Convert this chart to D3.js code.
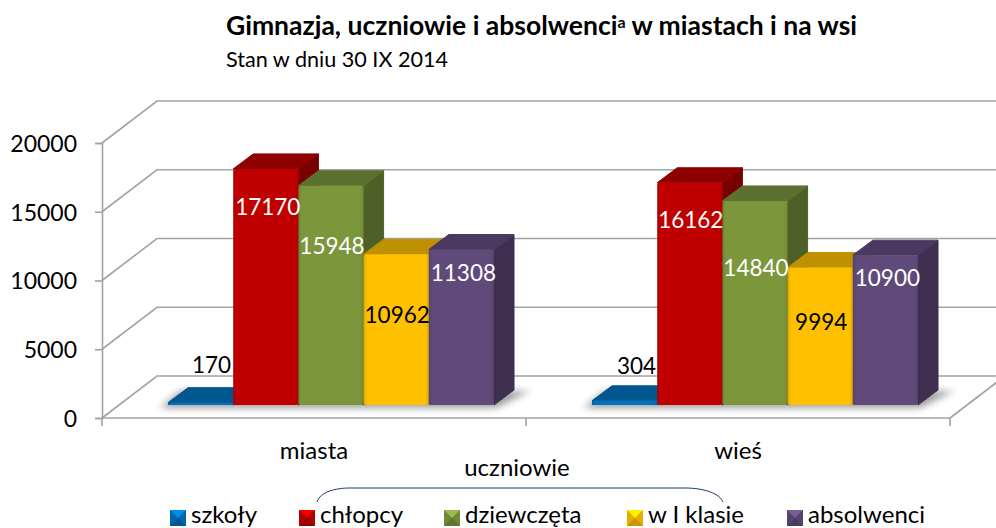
<!DOCTYPE html>
<html>
<head>
<meta charset="utf-8">
<script src="https://d3js.org/d3.v7.min.js"></script>
<style>
  html, body { margin: 0; padding: 0; background: #fff; overflow: hidden; }
  text { font-family: Lato, "Open Sans", sans-serif; }
  .tick text { font-family: Lato, "Open Sans", sans-serif; }
</style>
</head>
<body>
<div id="chart"></div>
<script>
var categories = ["miasta", "wieś"];
var seriesNames = ["szkoły", "chłopcy", "dziewczęta", "w I klasie", "absolwenci"];
var miastaValues = [170, 17170, 15948, 10962, 11308];
var wiesValues = [304, 16162, 14840, 9994, 10900];
var yTicks = [0, 5000, 10000, 15000, 20000];

var w = 996;
var h = 528;

// colours per series: front, top, side
var frontColors = ["#0070c0", "#c00000", "#7c963c", "#ffc000", "#604a7a"];
var topColors = ["#00568f", "#8f0000", "#5c7030", "#bf9000", "#4a3960"];
var sideColors = ["#004a7c", "#790000", "#4e5f27", "#a67d00", "#3f2f50"];
var labelColors = ["#000", "#fff", "#fff", "#000", "#fff"];

// the labels were placed by hand in the original: drop below bar top, and x shift
var labelDrop = [[-38, 38, 60, 61, 23], [-35, 37, 67, 54, 23]];
var labelShift = [[11, 2, 1, 1, 2], [12, 1, 1, 1, 2]];

// 3D box settings
var wallDx = 55, wallDy = -42;    // back wall offset
var barDx = 20, barDy = -15;      // depth of one bar
var floorInset = 13;              // bars stand a bit behind the front edge

var svg = d3.select("#chart")
    .append("svg")
    .attr("width", w)
    .attr("height", h)
    .style("display", "block");

var defs = svg.append("defs");
defs.append("filter")
    .attr("id", "soft")
    .attr("x", "-20%").attr("y", "-60%")
    .attr("width", "140%").attr("height", "220%")
    .append("feGaussianBlur")
    .attr("stdDeviation", 3.5);

// darker edges on the bar fronts
frontColors.forEach(function(c, i) {
    var g = defs.append("linearGradient").attr("id", "front" + i);
    var dark = d3.color(c).darker(0.35);
    g.append("stop").attr("offset", "0%").attr("stop-color", dark);
    g.append("stop").attr("offset", "5%").attr("stop-color", c);
    g.append("stop").attr("offset", "95%").attr("stop-color", c);
    g.append("stop").attr("offset", "100%").attr("stop-color", dark);
});

var xScale = d3.scaleBand()
    .domain(categories)
    .range([102, 950]);

var inner = d3.scaleBand()
    .domain(seriesNames)
    .range([66, 392]);

var yScale = d3.scaleLinear()
    .domain([0, 20000])
    .range([418, 143]);

var gridColor = "#a3a3a3";

// walls: one slanted + one horizontal line per tick
var grid = svg.append("g")
    .attr("fill", "none")
    .attr("stroke", gridColor)
    .attr("stroke-width", 1.6);

yTicks.forEach(function(t) {
    var y = yScale(t);
    grid.append("path")
        .attr("d", d3.line()([[102, y], [102 + wallDx, y + wallDy], [w, y + wallDy]]));
});

// right side of the floor, runs off the picture
grid.append("path")
    .attr("d", d3.line()([[950, yScale(0)], [950 + wallDx, yScale(0) + wallDy]]));

// y axis
var yAxis = d3.axisLeft(yScale)
    .tickValues(yTicks)
    .tickFormat(d3.format("d"))
    .tickSize(7)
    .tickPadding(18);

var yG = svg.append("g")
    .attr("transform", "translate(102,0)")
    .call(yAxis);
yG.selectAll("path, line").attr("stroke", gridColor).attr("stroke-width", 1.6);
yG.selectAll("text").style("font-size", "23px").attr("fill", "#000").attr("dy", "0.36em");

// x axis, ticks sit between the categories
var xAxis = d3.axisBottom(xScale).tickSize(0).tickPadding(24);
var xG = svg.append("g")
    .attr("transform", "translate(0," + yScale(0) + ")")
    .call(xAxis);
xG.selectAll("path").attr("stroke", gridColor).attr("stroke-width", 1.6).attr("d", "M102,0H950");
xG.selectAll("text").style("font-size", "24px").attr("fill", "#000");

[0, 1, 2].forEach(function(i) {
    var x = 102 + i * xScale.step();
    xG.append("line")
        .attr("x1", x).attr("x2", x)
        .attr("y1", 0).attr("y2", 8)
        .attr("stroke", gridColor)
        .attr("stroke-width", 1.6);
});

var valuesByCategory = [miastaValues, wiesValues];
var base = yScale(0) - floorInset;

function barX(catIndex, name) {
    return xScale(categories[catIndex]) + inner(name);
}

function barHeight(v) {
    return yScale(0) - yScale(v);
}

// floor shadows
categories.forEach(function(c, ci) {
    var x0 = barX(ci, seriesNames[0]);
    var x1 = barX(ci, seriesNames[4]) + inner.bandwidth();
    svg.append("polygon")
        .attr("points", [
            [x0 - 8, base + 3],
            [x1 + 2, base + 3],
            [x1 + barDx + 16, base + barDy + 1],
            [x0 + barDx - 8, base + barDy + 1]
        ].join(" "))
        .attr("fill", "#808080")
        .attr("opacity", 0.75)
        .attr("filter", "url(#soft)");
});

// bars, left to right so every bar covers the side of the one before
categories.forEach(function(c, ci) {
    var g = svg.append("g").attr("class", "group");
    valuesByCategory[ci].forEach(function(v, si) {
        var x = barX(ci, seriesNames[si]);
        var bw = inner.bandwidth();
        var bh = barHeight(v);
        var top = base - bh;

        g.append("polygon")
            .attr("points", [[x + bw, top], [x + bw + barDx, top + barDy], [x + bw + barDx, base + barDy], [x + bw, base]].join(" "))
            .attr("fill", sideColors[si])
            .attr("stroke", sideColors[si])
            .attr("stroke-linejoin", "round");
        g.append("polygon")
            .attr("points", [[x, top], [x + barDx, top + barDy], [x + bw + barDx, top + barDy], [x + bw, top]].join(" "))
            .attr("fill", topColors[si])
            .attr("stroke", topColors[si])
            .attr("stroke-linejoin", "round");
        g.append("rect")
            .attr("x", x)
            .attr("y", top)
            .attr("width", bw)
            .attr("height", bh)
            .attr("rx", bh > 6 ? 2 : 0)
            .attr("fill", "url(#front" + si + ")");
    });
});

// data labels
categories.forEach(function(c, ci) {
    valuesByCategory[ci].forEach(function(v, si) {
        svg.append("text")
            .attr("x", barX(ci, seriesNames[si]) + inner.bandwidth() / 2 + labelShift[ci][si])
            .attr("y", base - barHeight(v) + labelDrop[ci][si])
            .attr("dy", "0.36em")
            .attr("text-anchor", "middle")
            .attr("fill", labelColors[si])
            .style("font-size", "22.5px")
            .text(v);
    });
});

// title
var title = svg.append("text")
    .attr("x", 226)
    .attr("y", 35)
    .attr("fill", "#000")
    .style("font-size", "26.5px")
    .style("font-weight", 700);
title.append("tspan").text("Gimnazja, uczniowie i absolwenci");
title.append("tspan").attr("dy", -7).style("font-size", "16px").text("a");
title.append("tspan").attr("dy", 7).text(" w miastach i na wsi");

svg.append("text")
    .attr("x", 226)
    .attr("y", 67)
    .attr("fill", "#000")
    .style("font-size", "21.6px")
    .text("Stan w dniu 30 IX 2014");

// brace over the pupil series
svg.append("path")
    .attr("d", "M317,502C320,492 335,488 350,488H685C705,488 720,494 723,502")
    .attr("fill", "none")
    .attr("stroke", "#1f3a5f")
    .attr("stroke-width", 1);

svg.append("text")
    .attr("x", 517)
    .attr("y", 476)
    .attr("text-anchor", "middle")
    .attr("fill", "#000")
    .style("font-size", "24px")
    .text("uczniowie");

// legend, swatches drawn as small bevelled squares
var legendX = [170, 299, 444, 627, 787];
var swatch = 16, legendY = 510;

seriesNames.forEach(function(name, i) {
    var g = svg.append("g").attr("transform", "translate(" + legendX[i] + "," + legendY + ")");
    g.append("rect").attr("width", swatch).attr("height", swatch).attr("fill", d3.color(frontColors[i]).darker(0.3));
    g.append("polygon")
        .attr("points", [[0, 0], [swatch, 0], [swatch / 2, swatch / 2]].join(" "))
        .attr("fill", d3.color(frontColors[i]).brighter(0.6));
    g.append("polygon")
        .attr("points", [[0, swatch], [swatch, swatch], [swatch / 2, swatch / 2]].join(" "))
        .attr("fill", d3.color(frontColors[i]).darker(0.7));
    g.append("text")
        .attr("x", swatch + 5)
        .attr("y", 13)
        .attr("fill", "#000")
        .style("font-size", "24px")
        .text(name);
});
</script>
</body>
</html>
